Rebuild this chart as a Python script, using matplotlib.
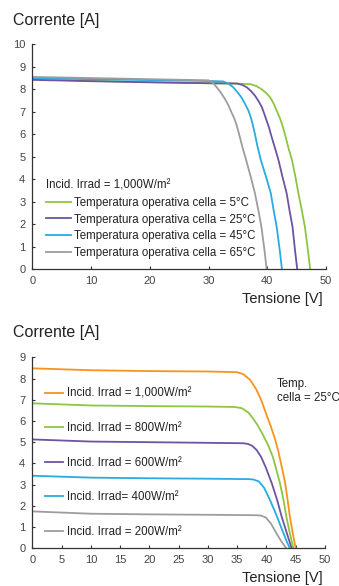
import matplotlib
matplotlib.use('Agg')
import matplotlib.pyplot as plt

plt.rcParams['font.family'] = ['Liberation Sans Narrow', 'Liberation Sans', 'DejaVu Sans']

# --- grafico 1: temperatura (irraggiamento 1000 W/m2) ---
temp_labels = ['Temperatura operativa cella = 5°C',
               'Temperatura operativa cella = 25°C',
               'Temperatura operativa cella = 45°C',
               'Temperatura operativa cella = 65°C']
temp_colors = ['#8dc63f', '#6c54a3', '#29abe2', '#9d9d9d']

v_5 = [0, 10, 20, 30, 35, 37.1, 38.1, 39.0, 39.8, 40.5, 41.1, 41.6, 42.1, 42.5, 43.0, 43.6,
       44.2, 44.8, 45.3, 45.9, 46.4, 46.9, 47.3]
i_5 = [8.45, 8.38, 8.32, 8.27, 8.25, 8.23, 8.15, 8.01, 7.84, 7.64, 7.36, 7.05, 6.75, 6.46, 6.01,
       5.4, 4.86, 4.1, 3.38, 2.6, 1.89, 0.9, 0]
v_25 = [0, 10, 20, 30, 34.8, 35.7, 36.5, 37.2, 37.9, 38.5, 39.1, 39.5, 39.9, 40.3, 40.6, 41.3,
        41.9, 42.6, 43.3, 43.8, 44.3, 44.7, 45.1]
i_25 = [8.42, 8.36, 8.31, 8.27, 8.26, 8.2, 8.09, 7.93, 7.72, 7.48, 7.2, 6.9, 6.6, 6.3, 6.01, 5.4,
        4.86, 4.1, 3.38, 2.6, 1.89, 0.9, 0]
v_45 = [0, 10, 20, 30, 32.5, 33.4, 34.2, 34.9, 35.6, 36.2, 36.8, 37.2, 37.5, 37.9, 38.3, 38.9,
        39.8, 40.6, 41.1, 41.6, 42.1, 42.5]
i_45 = [8.5, 8.45, 8.41, 8.37, 8.35, 8.25, 8.09, 7.88, 7.64, 7.36, 7.05, 6.75, 6.46, 6.01, 5.5,
        4.86, 4.1, 3.38, 2.6, 1.89, 0.9, 0]
v_65 = [0, 10, 20, 30.0, 30.7, 31.4, 32.1, 32.8, 33.4, 33.9, 34.4, 34.8, 35.2, 35.8, 36.4, 37.2,
        37.9, 38.5, 39.0, 39.5, 39.9]
i_65 = [8.55, 8.5, 8.45, 8.4, 8.3, 8.09, 7.85, 7.57, 7.28, 6.98, 6.7, 6.39, 6.01, 5.4, 4.86, 4.1,
        3.38, 2.6, 1.89, 0.9, 0]

# --- grafico 2: irraggiamento (temp. cella 25 C) ---
irr_labels = ['Incid. Irrad = 1,000W/m²',
              'Incid. Irrad = 800W/m²',
              'Incid. Irrad = 600W/m²',
              'Incid. Irrad= 400W/m²',
              'Incid. Irrad = 200W/m²']
irr_colors = ['#f7941d', '#8dc63f', '#6c54a3', '#29abe2', '#9d9d9d']

v_1000 = [0, 10, 20, 30, 34.9, 36.0, 37.2, 38.3, 39.2, 40.0, 40.7, 41.4, 42.0, 42.6, 43.2, 43.6,
          44.0, 44.5, 45.0]
i_1000 = [8.48, 8.39, 8.35, 8.33, 8.3, 8.21, 7.94, 7.47, 6.92, 6.29, 5.78, 5.2, 4.6, 3.85, 3.07,
          2.3, 1.49, 0.7, 0]
v_800 = [0, 10, 20, 30, 34.6, 35.8, 36.9, 37.7, 38.5, 39.3, 40.3, 41.1, 41.7, 42.3, 42.9, 43.4,
         44.0, 44.6]
i_800 = [6.83, 6.73, 6.7, 6.68, 6.66, 6.6, 6.4, 6.12, 5.8, 5.4, 4.85, 4.3, 3.7, 3.07, 2.3, 1.49,
         0.7, 0]
v_600 = [0, 10, 20, 30, 36.0, 36.8, 37.5, 38.3, 39.1, 39.9, 40.9, 41.8, 42.6, 43.5, 44.3]
i_600 = [5.13, 5.03, 5.0, 4.97, 4.95, 4.92, 4.84, 4.64, 4.3, 3.8, 3.07, 2.3, 1.49, 0.7, 0]
v_400 = [0, 10, 20, 30, 37.0, 37.8, 38.7, 39.6, 40.6, 41.8, 42.9, 43.5, 44.0]
i_400 = [3.42, 3.33, 3.3, 3.28, 3.26, 3.24, 3.15, 2.85, 2.28, 1.5, 0.71, 0.3, 0]
v_200 = [0, 10, 20, 30, 38.3, 39.1, 39.9, 40.8, 41.7, 42.6, 43.4]
i_200 = [1.74, 1.63, 1.6, 1.58, 1.56, 1.54, 1.45, 1.15, 0.71, 0.3, 0]

text_col = '#222222'
axis_col = '#333333'

fig = plt.figure(figsize=(3.39, 5.86), dpi=100)


def style_axes(ax):
    for s in ['top', 'right']:
        ax.spines[s].set_visible(False)
    for s in ['left', 'bottom']:
        ax.spines[s].set_color(axis_col)
        ax.spines[s].set_linewidth(0.9)
    ax.tick_params(direction='in', length=2.5, width=0.8, color=axis_col,
                   labelsize=8, labelcolor='#444444', pad=5)


# pannello superiore
ax1 = fig.add_axes([0.0953, 0.5404, 0.8664, 0.384])
for v, i, c, lab in zip([v_5, v_25, v_45, v_65], [i_5, i_25, i_45, i_65], temp_colors, temp_labels):
    ax1.plot(v, i, color=c, lw=1.3, label=lab, solid_joinstyle='round')
ax1.set_xlim(0, 50)
ax1.set_ylim(0, 10)
ax1.set_xticks(range(0, 51, 10))
ax1.set_yticks(range(0, 11))
style_axes(ax1)
leg1 = ax1.legend(loc='lower left', bbox_to_anchor=(0.045, 0.045), frameon=False,
                  fontsize=8.3, handlelength=2.2, handletextpad=0.3,
                  labelspacing=0.42, borderaxespad=0, borderpad=0,
                  title='Incid. Irrad = 1,000W/m²', title_fontsize=8.3,
                  alignment='left')
for t in leg1.get_texts():
    t.set_color(text_col)
leg1.get_title().set_color(text_col)

fig.text(13 / 339, 1 - 20 / 586, 'Corrente [A]', fontsize=11.5, color=text_col, va='center')
fig.text(323 / 339, 1 - 299 / 586, 'Tensione [V]', fontsize=10.5, color=text_col,
         va='center', ha='right')

# pannello inferiore
ax2 = fig.add_axes([0.0953, 0.0643, 0.8634, 0.326])
for v, i, c, lab in zip([v_1000, v_800, v_600, v_400, v_200],
                        [i_1000, i_800, i_600, i_400, i_200], irr_colors, irr_labels):
    ax2.plot(v, i, color=c, lw=1.3, label=lab, solid_joinstyle='round')
ax2.set_xlim(0, 50)
ax2.set_ylim(0, 9)
ax2.set_xticks(range(0, 51, 5))
ax2.set_yticks(range(0, 10))
style_axes(ax2)
leg2 = ax2.legend(loc='lower left', bbox_to_anchor=(0.045, 0.055), frameon=False,
                  fontsize=8.3, handlelength=1.5, handletextpad=0.4,
                  labelspacing=1.95, borderaxespad=0, borderpad=0)
for t in leg2.get_texts():
    t.set_color(text_col)

ax2.text(276.7 / 339, 1 - 378 / 586, 'Temp.\ncella = 25°C', transform=fig.transFigure,
         fontsize=8.3, color=text_col, va='top', ha='left', linespacing=1.25)

fig.text(13 / 339, 1 - 333 / 586, 'Corrente [A]', fontsize=11.5, color=text_col, va='center')
fig.text(323 / 339, 1 - 578 / 586, 'Tensione [V]', fontsize=10.5, color=text_col,
         va='center', ha='right')

fig.savefig('out.png', dpi=100)
